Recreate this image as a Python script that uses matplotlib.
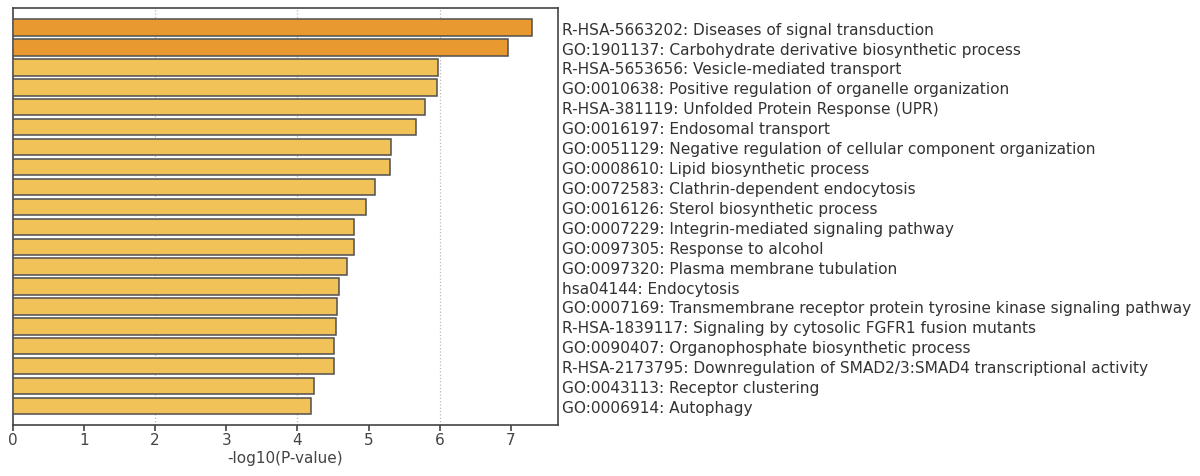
import matplotlib
matplotlib.use('Agg')
import matplotlib.pyplot as plt

terms = ['R-HSA-5663202: Diseases of signal transduction',
         'GO:1901137: Carbohydrate derivative biosynthetic process',
         'R-HSA-5653656: Vesicle-mediated transport',
         'GO:0010638: Positive regulation of organelle organization',
         'R-HSA-381119: Unfolded Protein Response (UPR)',
         'GO:0016197: Endosomal transport',
         'GO:0051129: Negative regulation of cellular component organization',
         'GO:0008610: Lipid biosynthetic process',
         'GO:0072583: Clathrin-dependent endocytosis',
         'GO:0016126: Sterol biosynthetic process',
         'GO:0007229: Integrin-mediated signaling pathway',
         'GO:0097305: Response to alcohol',
         'GO:0097320: Plasma membrane tubulation',
         'hsa04144: Endocytosis',
         'GO:0007169: Transmembrane receptor protein tyrosine kinase signaling pathway',
         'R-HSA-1839117: Signaling by cytosolic FGFR1 fusion mutants',
         'GO:0090407: Organophosphate biosynthetic process',
         'R-HSA-2173795: Downregulation of SMAD2/3:SMAD4 transcriptional activity',
         'GO:0043113: Receptor clustering',
         'GO:0006914: Autophagy']
logp = [7.29, 6.96, 5.97, 5.96, 5.79, 5.67, 5.31, 5.30, 5.09, 4.96,
        4.80, 4.79, 4.70, 4.58, 4.56, 4.54, 4.52, 4.51, 4.23, 4.19]
xticks = [0, 1, 2, 3, 4, 5, 6, 7]
grid_x = [2, 4, 6]

dark = '#E8992F'
light = '#F1C257'
colors = [dark if v > 6.5 else light for v in logp]

fig = plt.figure(figsize=(12, 4.77), dpi=100)
ax = fig.add_axes([0.0105, 0.107, 0.4545, 0.874])

ypos = list(range(len(terms)))
ax.barh(ypos, logp, height=0.82, color=colors, edgecolor='#505050', linewidth=1.1, zorder=3)

for g in grid_x:
    ax.axvline(g, color='#bbbbbb', linestyle=':', linewidth=0.9, zorder=1)

ax.set_xlim(0, 7.66)
ax.set_ylim(19.95, -0.98)
ax.set_xticks(xticks)
ax.set_xticklabels([str(t) for t in xticks], fontsize=11, color='#444444')
ax.tick_params(axis='x', direction='out', length=4, width=1.2, color='#444444', pad=1)

ax.yaxis.tick_right()
ax.set_yticks(ypos)
ax.set_yticklabels(terms, fontsize=11.1, color='#333333')
ax.tick_params(axis='y', length=0, pad=3)

for s in ax.spines.values():
    s.set_color('#444444')
    s.set_linewidth(1.2)

ax.set_xlabel('-log10(P-value)', fontsize=11, color='#444444', labelpad=2)

fig.savefig('out.png', dpi=100, facecolor='white')
